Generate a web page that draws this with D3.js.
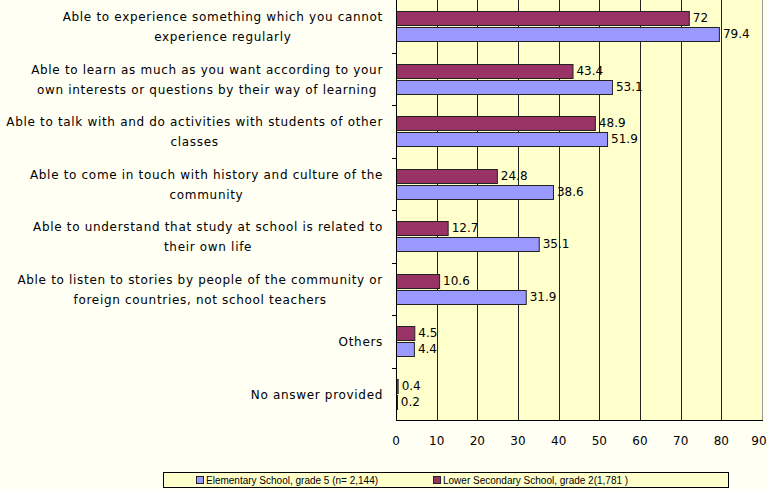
<!DOCTYPE html>
<html>
<head>
<meta charset="utf-8">
<script src="https://d3js.org/d3.v7.min.js"></script>
<style>
  body { margin: 0; background: #fffff4; }
  svg { display: block; }
  text { font-family: "DejaVu Sans", sans-serif; fill: #000; }
</style>
</head>
<body>
<svg id="chart" width="768" height="489"></svg>
<script>
var categories = [
  ["Able to experience something which you cannot", "experience regularly"],
  ["Able to learn as much as you want according to your", "own interests or questions by their way of learning"],
  ["Able to talk with and do activities with students of other", "classes"],
  ["Able to come in touch with history and culture of the", "community"],
  ["Able to understand that study at school is related to", "their own life"],
  ["Able to listen to stories by people of the community or", "foreign countries, not school teachers"],
  ["Others"],
  ["No answer provided"]
];
var elementary = [79.4, 53.1, 51.9, 38.6, 35.1, 31.9, 4.4, 0.2];
var lowerSecondary = [72, 43.4, 48.9, 24.8, 12.7, 10.6, 4.5, 0.4];
var seriesNames = ["Elementary School, grade 5 (n= 2,144)", "Lower Secondary School, grade 2(1,781 )"];
var xTicks = [0, 10, 20, 30, 40, 50, 60, 70, 80, 90];

var svg = d3.select('#chart');
var plot = {left: 396, right: 762, top: 0, bottom: 420};

var x = d3.scaleLinear().domain([0, 90]).range([plot.left, plot.right]);
var y = d3.scaleBand().domain(d3.range(categories.length)).range([plot.top, plot.bottom]);

// plot background
svg.append('rect')
  .attr('x', plot.left).attr('y', plot.top)
  .attr('width', plot.right - plot.left).attr('height', plot.bottom - plot.top)
  .attr('fill', '#ffffcc');

// vertical grid
svg.selectAll('.grid').data(xTicks.slice(1, -1)).enter().append('line')
  .attr('x1', function(d) { return Math.round(x(d)) + 0.5; })
  .attr('x2', function(d) { return Math.round(x(d)) + 0.5; })
  .attr('y1', plot.top).attr('y2', plot.bottom)
  .attr('stroke', '#222').attr('stroke-width', 1);

// right border
svg.append('line')
  .attr('x1', plot.right + 0.5).attr('x2', plot.right + 0.5)
  .attr('y1', plot.top).attr('y2', plot.bottom)
  .attr('stroke', '#999');

var barH = 14;
var gap = 2;

function drawBars(values, offset, color) {
  svg.append('g').selectAll('rect').data(values).enter().append('rect')
    .attr('x', plot.left + 0.5)
    .attr('y', function(d, i) { return Math.round(y(i) + y.bandwidth() / 2 + offset) + 0.5; })
    .attr('width', function(d) { return Math.max(x(d) - plot.left, 1); })
    .attr('height', barH)
    .attr('fill', color)
    .attr('stroke', '#222').attr('stroke-width', 1);
  svg.append('g').selectAll('text').data(values).enter().append('text')
    .attr('x', function(d) { return x(d) + 4; })
    .attr('y', function(d, i) { return y(i) + y.bandwidth() / 2 + offset + barH / 2; })
    .attr('dy', '0.35em')
    .attr('font-size', 12)
    .text(function(d) { return d; });
}

drawBars(lowerSecondary, -barH - gap / 2, '#993366');
drawBars(elementary, gap / 2, '#9999ff');

// y axis
svg.append('line')
  .attr('x1', plot.left + 0.5).attr('x2', plot.left + 0.5)
  .attr('y1', plot.top).attr('y2', plot.bottom)
  .attr('stroke', '#000');
svg.selectAll('.ytick').data(d3.range(1, categories.length)).enter().append('line')
  .attr('x1', plot.left - 4).attr('x2', plot.left)
  .attr('y1', function(d) { return Math.round(y(d)) + 0.5; })
  .attr('y2', function(d) { return Math.round(y(d)) + 0.5; })
  .attr('stroke', '#000');

// x axis
svg.append('line')
  .attr('x1', plot.left).attr('x2', plot.right + 1)
  .attr('y1', plot.bottom + 0.5).attr('y2', plot.bottom + 0.5)
  .attr('stroke', '#000');
svg.selectAll('.xlabel').data(xTicks).enter().append('text')
  .attr('x', function(d) { return Math.min(x(d), 759); })
  .attr('y', 441)
  .attr('dy', '0.35em')
  .attr('text-anchor', 'middle')
  .attr('font-size', 12)
  .text(function(d) { return d; });

// category labels
var labels = svg.append('g').selectAll('g').data(categories).enter().append('g');
labels.each(function(lines, i) {
  var g = d3.select(this);
  var cy = y(i) + y.bandwidth() / 2 + 1;
  var lh = 20;
  lines.forEach(function(line, j) {
    g.append('text')
      .attr('x', 383)
      .attr('y', cy + (j - (lines.length - 1) / 2) * lh)
      .attr('dy', '0.35em')
      .attr('text-anchor', 'end')
      .attr('font-size', 12)
      .attr('letter-spacing', 0.68)
      .text(line);
  });
  // second line centred under the first
  if (lines.length > 1) {
    var box = g.select('text').node().getBBox();
    g.selectAll('text').filter(function(d, j) { return j === 1; })
      .attr('x', box.x + box.width / 2)
      .attr('text-anchor', 'middle');
  }
});

// legend
var legend = svg.append('g');
legend.append('rect')
  .attr('x', 163.5).attr('y', 472.5).attr('width', 565).attr('height', 15)
  .attr('fill', '#ffffcc').attr('stroke', '#000');
var legendItems = [
  {name: seriesNames[0], color: '#9999ff', x: 196},
  {name: seriesNames[1], color: '#993366', x: 433}
];
legendItems.forEach(function(item) {
  legend.append('rect')
    .attr('x', item.x + 0.5).attr('y', 476.5).attr('width', 7).attr('height', 7)
    .attr('fill', item.color).attr('stroke', '#222');
  legend.append('text')
    .attr('x', item.x + 10).attr('y', 480)
    .attr('dy', '0.35em')
    .attr('font-size', 10)
    .style('font-family', '"Liberation Sans", sans-serif')
    .text(item.name);
});
</script>
</body>
</html>
